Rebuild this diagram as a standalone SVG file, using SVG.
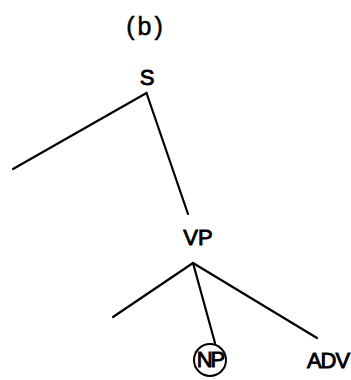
<svg xmlns="http://www.w3.org/2000/svg" width="351" height="380" viewBox="0 0 351 380">
<style>
.lbl{font-family:"Liberation Sans",Arial,sans-serif;font-size:22px;fill:#000;stroke:#000;stroke-width:0.9;text-anchor:middle}
.edge{stroke:#000;stroke-width:2.2;fill:none;stroke-linecap:round}
</style>
<rect width="351" height="380" fill="#fff"/>
<text x="146" y="35" font-family="Liberation Sans, sans-serif" font-size="25" letter-spacing="3" text-anchor="middle" fill="#000" stroke="#000" stroke-width="0.5">(b)</text>
<g id="connectors">
<line class="edge" x1="146.5" y1="93" x2="13" y2="169"/>
<line class="edge" x1="146.5" y1="93" x2="188" y2="214"/>
<line class="edge" x1="193" y1="263" x2="113" y2="317"/>
<line class="edge" x1="193" y1="263" x2="215" y2="343"/>
<line class="edge" x1="193" y1="263" x2="317" y2="338"/>
</g>
<g id="S"><text class="lbl" x="147" y="85">S</text></g>
<g id="VP"><text class="lbl" x="198" y="245">VP</text></g>
<g id="NP">
<circle cx="210" cy="360" r="16" fill="none" stroke="#000" stroke-width="2"/>
<text class="lbl" x="210" y="367" font-size="19" letter-spacing="-2">NP</text>
</g>
<g id="ADV"><text class="lbl" x="328" y="368" letter-spacing="-1">ADV</text></g>
</svg>
